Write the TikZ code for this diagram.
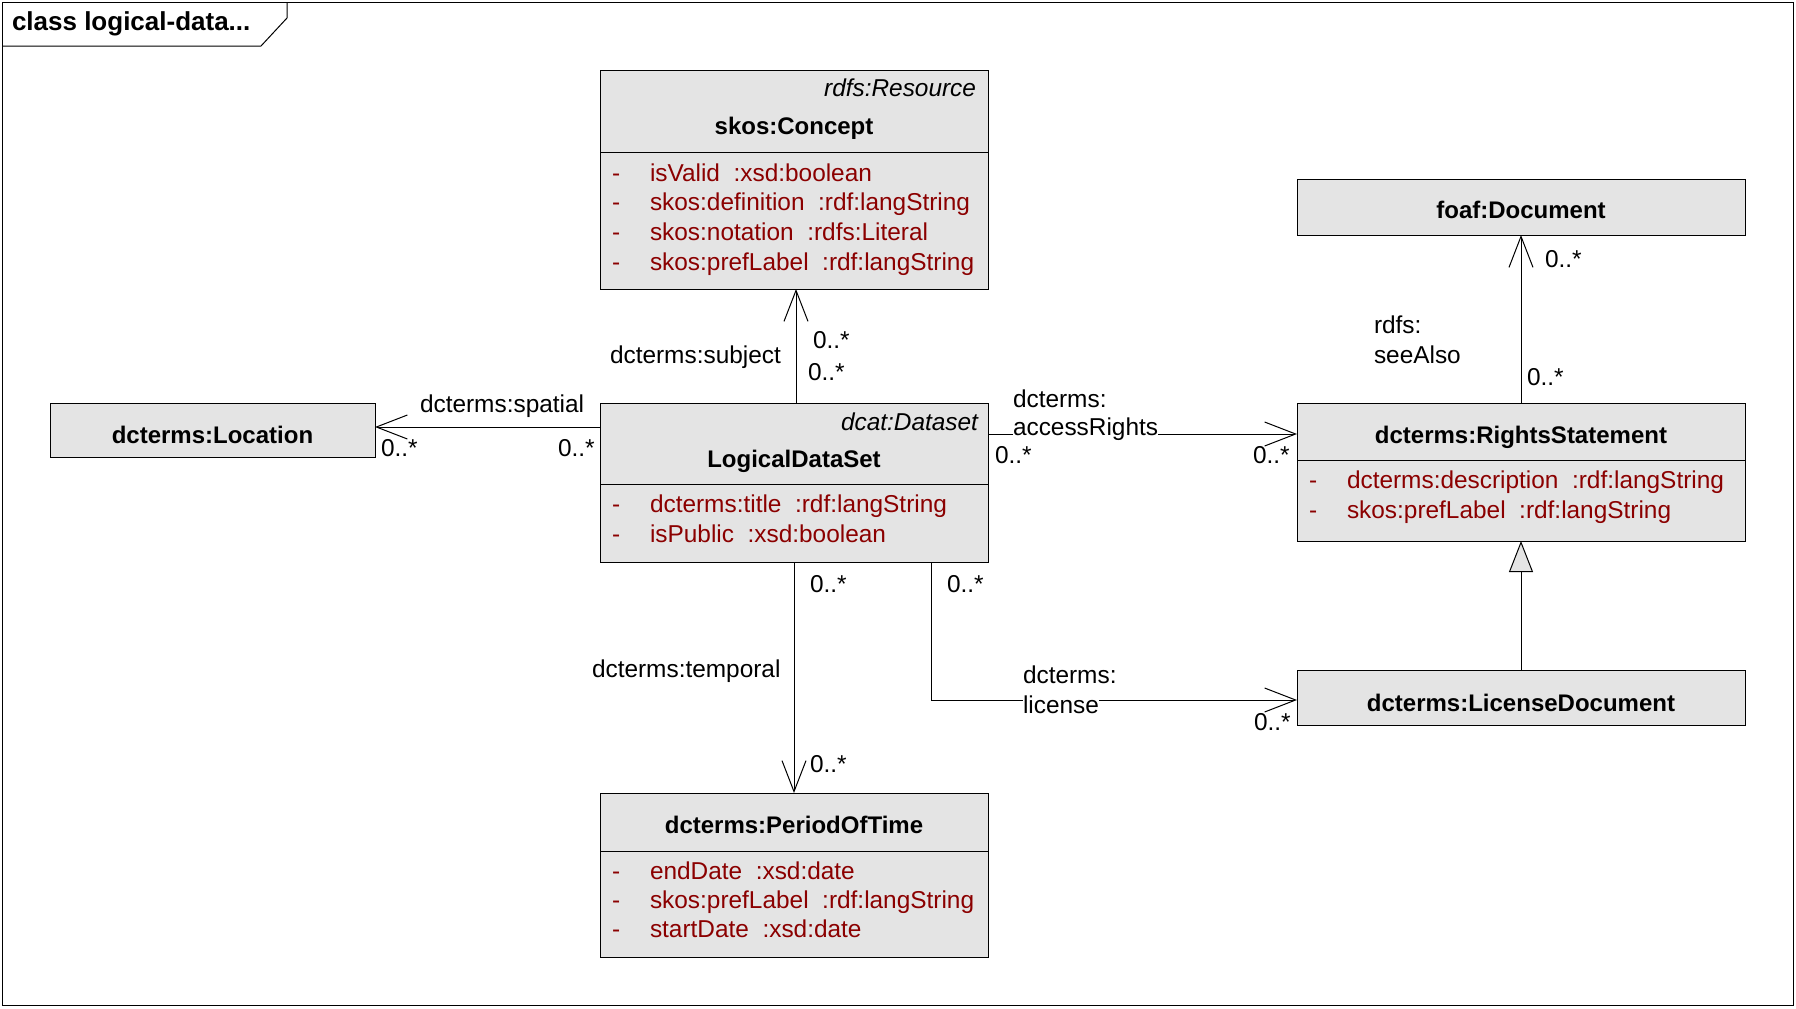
\documentclass[tikz,border=0pt]{standalone}
\usepackage{fontspec}
\setmainfont{Liberation Sans}
\usetikzlibrary{arrows.meta,calc}

\definecolor{boxfill}{RGB}{228,228,228}
\definecolor{attrred}{RGB}{139,0,0}

% one attribute row of a class: dash and text, dy below the box top
\newcommand{\umlattr}[4]{%
  \node[attrtxt] (#1d) at ($(#2.north west)+(12,#3)$) {-};
  \node[attrtxt] (#1t) at ($(#2.north west)+(50,#3)$) {#4};}

\begin{document}
\begin{tikzpicture}[x=0.5pt,y=-0.5pt,
  every node/.style={inner sep=0pt, outer sep=0pt},
  classbox/.style={draw, line width=0.5pt, fill=boxfill, anchor=north west, rectangle},
  classname/.style={font=\fontsize{12}{14}\selectfont\bfseries, anchor=base},
  stereo/.style={font=\fontsize{12.2}{14}\selectfont\itshape, anchor=base east},
  attrtxt/.style={font=\fontsize{12.2}{14}\selectfont, text=attrred, anchor=base west},
  lbl/.style={font=\fontsize{12.2}{14}\selectfont, anchor=base west},
  cutlbl/.style={lbl, fill=white},
  assoc/.style={draw, line width=0.5pt, -{Straight Barb[length=15.5pt,width=12pt]}},
  gen/.style={draw, line width=0.5pt, -{Triangle[length=15.5pt,width=12pt,fill=boxfill]}}
]
\useasboundingbox (0,0) rectangle (1796,1008);

% diagram frame and its name tab
\draw[line width=0.5pt] (2,2) rectangle (1793,1005);
\draw[line width=0.5pt] (2,46) -- (261,46) -- (287,18) -- (287,2);
\node[font=\fontsize{13}{15}\selectfont\bfseries, anchor=base west] (frametitle) at (12,30) {class logical-data...};

% class boxes
\node[classbox, minimum width=194pt, minimum height=109.5pt] (concept) at (600,70) {};
\node[classbox, minimum width=194pt, minimum height=79.5pt] (lds) at (600,403) {};
\node[classbox, minimum width=162.5pt, minimum height=27pt] (loc) at (50,403) {};
\node[classbox, minimum width=224pt, minimum height=28pt] (foaf) at (1297,179) {};
\node[classbox, minimum width=224pt, minimum height=69pt] (rights) at (1297,403) {};
\node[classbox, minimum width=224pt, minimum height=27.5pt] (lic) at (1297,670) {};
\node[classbox, minimum width=194pt, minimum height=82pt] (period) at (600,793) {};

% compartment dividers
\draw[line width=0.5pt] ($(concept.north west)+(0,82)$) -- ($(concept.north east)+(0,82)$);
\draw[line width=0.5pt] ($(lds.north west)+(0,81)$) -- ($(lds.north east)+(0,81)$);
\draw[line width=0.5pt] ($(rights.north west)+(0,57)$) -- ($(rights.north east)+(0,57)$);
\draw[line width=0.5pt] ($(period.north west)+(0,58)$) -- ($(period.north east)+(0,58)$);

% skos:Concept
\node[stereo] (conceptst) at ($(concept.north east)+(-12,26)$) {rdfs:Resource};
\node[classname] (conceptnm) at ($(concept.north)+(0,64)$) {skos:Concept};
\umlattr{ca}{concept}{111}{isValid\ \ :xsd:boolean}
\umlattr{cb}{concept}{140.7}{skos:definition\ \ :rdf:langString}
\umlattr{cc}{concept}{170.4}{skos:notation\ \ :rdfs:Literal}
\umlattr{cd}{concept}{200}{skos:prefLabel\ \ :rdf:langString}

% LogicalDataSet
\node[stereo] (ldsst) at ($(lds.north east)+(-10,27)$) {dcat:Dataset};
\node[classname] (ldsnm) at ($(lds.north)+(0,64)$) {LogicalDataSet};
\umlattr{la}{lds}{109}{dcterms:title\ \ :rdf:langString}
\umlattr{lb}{lds}{139}{isPublic\ \ :xsd:boolean}

% dcterms:Location
\node[classname] (locnm) at ($(loc.north)+(0,40)$) {dcterms:Location};

% foaf:Document
\node[classname] (foafnm) at ($(foaf.north)+(0,39)$) {foaf:Document};

% dcterms:RightsStatement
\node[classname] (rightsnm) at ($(rights.north)+(0,40)$) {dcterms:RightsStatement};
\umlattr{ra}{rights}{85}{dcterms:description\ \ :rdf:langString}
\umlattr{rb}{rights}{115}{skos:prefLabel\ \ :rdf:langString}

% dcterms:LicenseDocument
\node[classname] (licnm) at ($(lic.north)+(0,41)$) {dcterms:LicenseDocument};

% dcterms:PeriodOfTime
\node[classname] (periodnm) at ($(period.north)+(0,40)$) {dcterms:PeriodOfTime};
\umlattr{pa}{period}{86}{endDate\ \ :xsd:date}
\umlattr{pb}{period}{115}{skos:prefLabel\ \ :rdf:langString}
\umlattr{pc}{period}{144}{startDate\ \ :xsd:date}

% associations
\draw[assoc] ($(lds.north west)+(0,24)$) -- ($(loc.north east)+(0,24)$);
\draw[assoc] ($(lds.north)+(2,0)$) -- ($(concept.south)+(2,0)$);
\draw[assoc] ($(lds.north east)+(0,31)$) -- ($(rights.north west)+(0,31)$);
\draw[assoc] (lds.south) -- (period.north);
\draw[assoc] ($(lds.south west)+(331,0)$) |- ($(lic.north west)+(0,30)$);
\draw[assoc] (rights.north) -- (foaf.south);

% generalization
\draw[gen] (lic.north) -- (rights.south);

% role names and multiplicities
\node[lbl] (spatialnm) at (420,412) {dcterms:spatial};
\node[lbl] (spatialm1) at (381,456) {0..*};
\node[lbl] (spatialm2) at (558,456) {0..*};

\node[lbl] (subjectnm) at (610,363) {dcterms:subject};
\node[lbl] (subjectm1) at (813,348) {0..*};
\node[lbl] (subjectm2) at (808,380) {0..*};

\node[lbl] (accessnm1) at (1013,407) {dcterms:};
\node[cutlbl] (accessnm2) at (1013,435) {accessRights};
\node[lbl] (accessm1) at (995,463) {0..*};
\node[lbl] (accessm2) at (1253,463) {0..*};

\node[lbl] (seealsonm1) at (1374,333) {rdfs:};
\node[lbl] (seealsonm2) at (1374,363) {seeAlso};
\node[lbl] (seealsom1) at (1545,267) {0..*};
\node[lbl] (seealsom2) at (1527,385) {0..*};

\node[lbl] (temporalnm) at (592,677) {dcterms:temporal};
\node[lbl] (temporalm1) at (810,592) {0..*};
\node[lbl] (temporalm2) at (810,772) {0..*};

\node[lbl] (licensenm1) at (1023,683) {dcterms:};
\node[cutlbl] (licensenm2) at (1023,713) {license};
\node[lbl] (licensem1) at (947,592) {0..*};
\node[lbl] (licensem2) at (1254,730) {0..*};
\end{tikzpicture}
\end{document}
